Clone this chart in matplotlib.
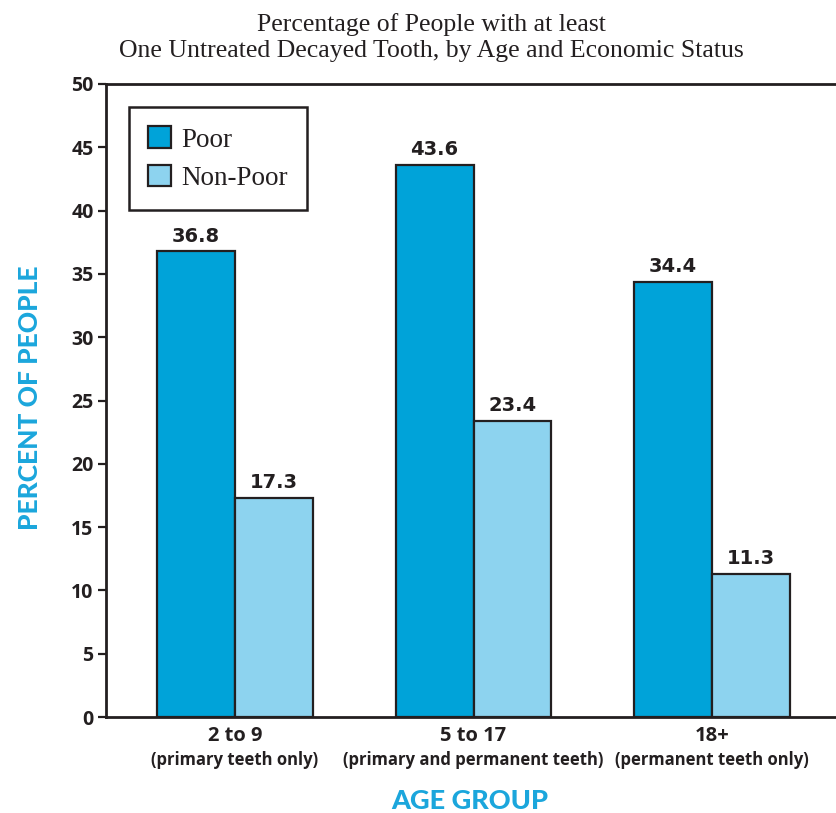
import matplotlib
matplotlib.use("Agg")
import matplotlib.pyplot as plt
import numpy as np

# data
age_groups = ["2 to 9", "5 to 17", "18+"]
age_notes = ["(primary teeth only)", "(primary and permanent teeth)", "(permanent teeth only)"]
poor = [36.8, 43.6, 34.4]
non_poor = [17.3, 23.4, 11.3]
y_ticks = [0, 5, 10, 15, 20, 25, 30, 35, 40, 45, 50]

dark = "#231F20"
blue_poor = "#00A3D9"
blue_nonpoor = "#8DD3EF"
label_blue = "#1BA6DC"
sans = "Open Sans"

fig = plt.figure(figsize=(8.36, 8.13), dpi=100)
ax = fig.add_axes([0.1268, 0.118, 0.8732, 0.7787])

x = np.arange(len(age_groups))
w = 0.327
b1 = ax.bar(x - w / 2, poor, w, color=blue_poor, edgecolor=dark, linewidth=1.6, label="Poor")
b2 = ax.bar(x + w / 2, non_poor, w, color=blue_nonpoor, edgecolor=dark, linewidth=1.6, label="Non-Poor")

# value labels above bars
for bars, vals in [(b1, poor), (b2, non_poor)]:
    for bar, v in zip(bars, vals):
        ax.annotate(f"{v}", (bar.get_x() + bar.get_width() / 2, bar.get_height()),
                    xytext=(0, 4), textcoords="offset points", ha="center", va="bottom",
                    fontsize=14, fontweight="bold", color=dark, family="DejaVu Sans")

ax.set_xlim(-0.541, 2.52)
ax.set_ylim(0, 50)
ax.set_yticks(y_ticks)
ax.set_yticklabels([str(t) for t in y_ticks], fontsize=14, fontweight="bold",
                   color=dark, family=sans)
ax.tick_params(axis="y", direction="out", length=6, width=1.6, color=dark, pad=3)
ax.set_xticks([])

for side in ["left", "bottom", "top"]:
    ax.spines[side].set_linewidth(2)
    ax.spines[side].set_color(dark)
ax.spines["right"].set_visible(False)

# category labels under the axis
for xi, grp, note in zip(x, age_groups, age_notes):
    ax.text(xi, -0.7, grp, ha="center", va="top", fontsize=14.5, fontweight="bold",
            color=dark, family=sans)
    ax.text(xi, -2.7, note, ha="center", va="top", fontsize=12, fontweight="bold",
            color=dark, family=sans)

fig.text(0.562, 0.0, "AGE GROUP", ha="center", va="bottom", fontsize=19.5,
         fontweight="black", color=label_blue, family="Lato")
fig.text(0.021, 0.511, "PERCENT OF PEOPLE", ha="left", va="center", rotation=90,
         fontsize=19, fontweight="black", color=label_blue, family="Lato")

fig.text(0.516, 0.984, "Percentage of People with at least\nOne Untreated Decayed Tooth, by Age and Economic Status",
         ha="center", va="top", fontsize=18.5, color=dark, family="Liberation Serif",
         linespacing=1.25)

leg = ax.legend(loc="upper left", bbox_to_anchor=(0.031, 0.963),
                prop={"family": "Liberation Serif", "size": 19.5},
                frameon=True, fancybox=False, edgecolor=dark, framealpha=1,
                borderpad=0.7, handlelength=0.85, handleheight=0.85,
                handletextpad=0.4, labelspacing=0.45, borderaxespad=0)
leg.get_frame().set_linewidth(1.8)
for t in leg.get_texts():
    t.set_color(dark)

fig.savefig("out.png", dpi=100)
